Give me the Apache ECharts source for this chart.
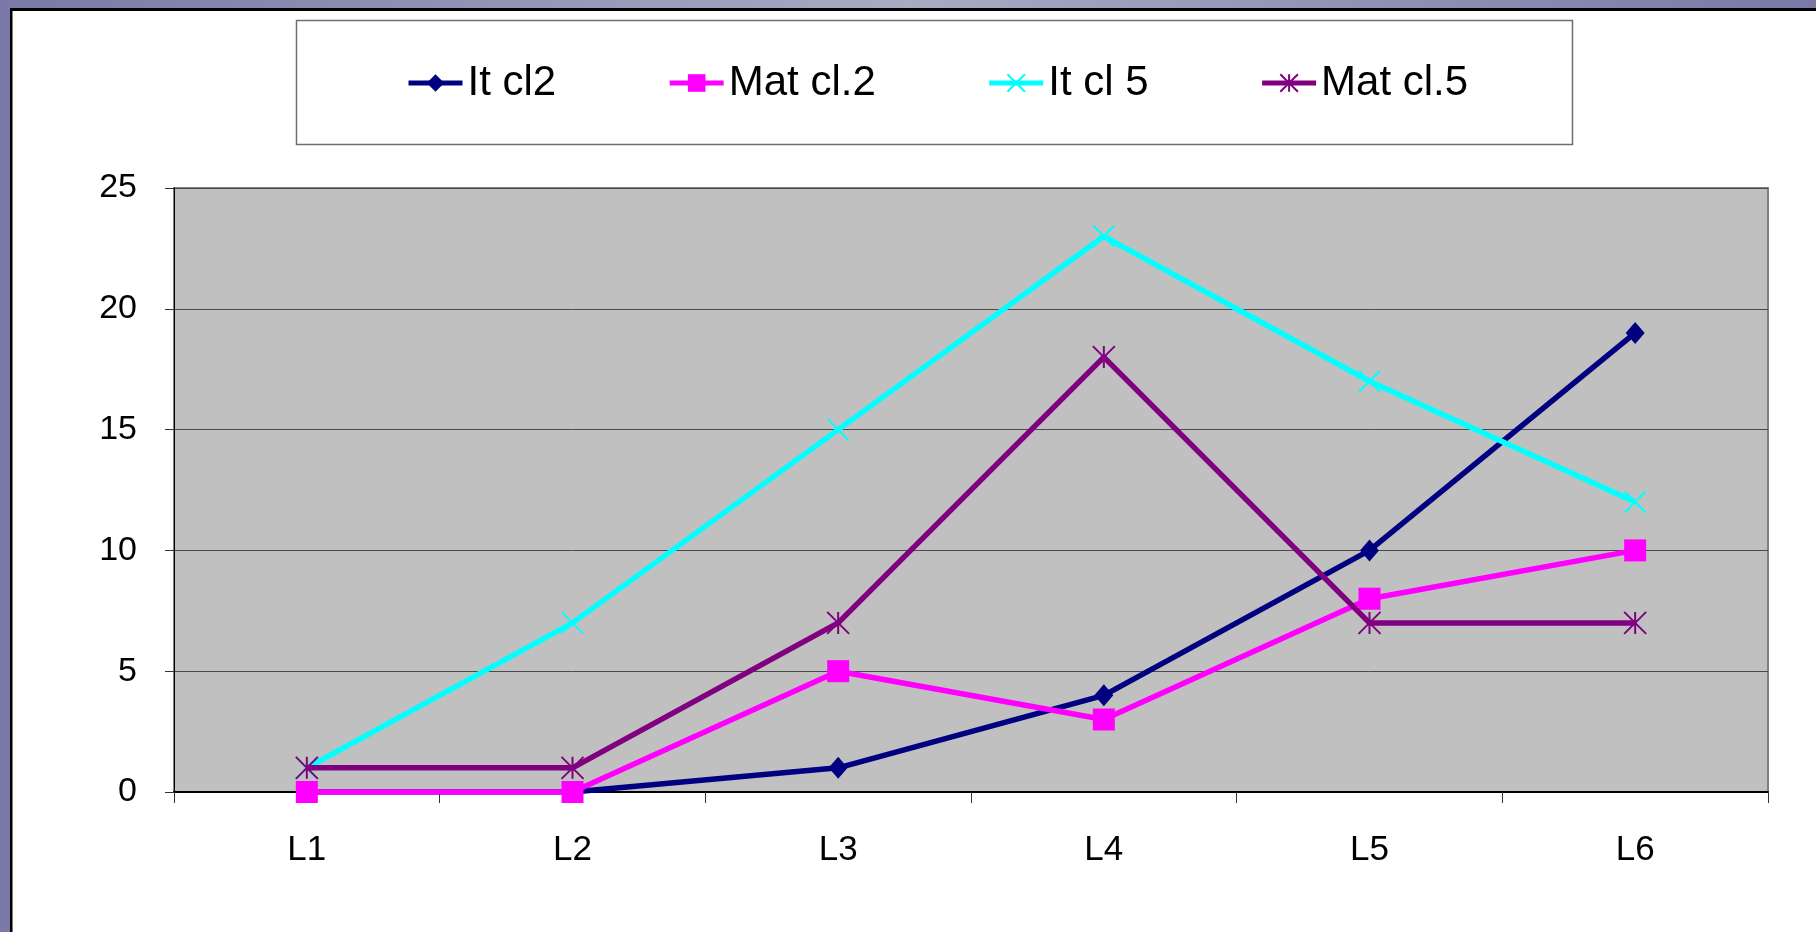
<!DOCTYPE html>
<html>
<head>
<meta charset="utf-8">
<script src="https://cdn.jsdelivr.net/npm/echarts@6/dist/echarts.min.js"></script>
<style>
html,body{margin:0;padding:0;background:#fff;}
#chart{width:1816px;height:932px;}
</style>
</head>
<body>
<div id="chart"></div>
<script>
var categories = ['L1', 'L2', 'L3', 'L4', 'L5', 'L6'];
var seriesNames = ['It cl2', 'Mat cl.2', 'It cl 5', 'Mat cl.5'];
var itCl2 = [0, 0, 1, 4, 10, 19];
var matCl2 = [0, 0, 5, 3, 8, 10];
var itCl5 = [1, 7, 15, 23, 17, 12];
var matCl5 = [1, 1, 7, 18, 7, 7];
var yTicks = [0, 5, 10, 15, 20, 25];

var colors = ['#000080', '#ff00ff', '#00ffff', '#800080'];
var symbols = [
  'diamond',
  'rect',
  'path://M0,0L10,10M10,0L0,10',
  'path://M0,0L10,10M10,0L0,10M5,0L5,10'
];
var sizes = [[19, 22], 22, 21, 22];
var dataSets = [itCl2, matCl2, itCl5, matCl5];
var FONT = '"Liberation Sans", Arial, sans-serif';

var series = dataSets.map(function (d, i) {
  var isPath = symbols[i].indexOf('path://') === 0;
  return {
    name: seriesNames[i],
    type: 'line',
    data: d,
    symbol: symbols[i],
    symbolSize: sizes[i],
    showAllSymbol: true,
    animation: false,
    lineStyle: { color: colors[i], width: 5.5 },
    itemStyle: {
      color: colors[i],
      borderColor: colors[i],
      borderWidth: isPath ? 2 : 0
    },
    emphasis: { disabled: true },
    z: 10 + i
  };
});

var chart = echarts.init(document.getElementById('chart'), null, { renderer: 'canvas' });
chart.setOption({
  backgroundColor: '#ffffff',
  animation: false,
  textStyle: { fontFamily: FONT },
  graphic: [
    {
      type: 'rect', z: -10, silent: true,
      shape: { x: 0, y: 0, width: 1816, height: 932 },
      style: {
        fill: new echarts.graphic.LinearGradient(0, 0, 1, 0, [
          { offset: 0, color: '#7a79a7' },
          { offset: 0.5, color: '#aaaac3' },
          { offset: 1, color: '#7a79a7' }
        ])
      }
    },
    {
      type: 'rect', z: -9, silent: true,
      shape: { x: 10, y: 8, width: 1806, height: 924 },
      style: { fill: '#ffffff' }
    },
    {
      type: 'rect', z: -8, silent: true,
      shape: { x: 10, y: 8, width: 1806, height: 3 },
      style: { fill: '#000000' }
    },
    {
      type: 'rect', z: -8, silent: true,
      shape: { x: 10, y: 8, width: 2.5, height: 924 },
      style: { fill: '#000000' }
    },
    {
      type: 'rect', z: -5, silent: true,
      shape: { x: 296.5, y: 20.5, width: 1276, height: 124 },
      style: { fill: '#ffffff', stroke: '#6e6e6e', lineWidth: 1.5 }
    }
  ],
  legend: {
    left: 406,
    top: 62,
    padding: 0,
    itemGap: 111,
    itemWidth: 54,
    itemHeight: 22,
    lineStyle: { width: 5 },
    textStyle: { fontSize: 42, color: '#000', fontFamily: FONT, padding: [0, 0, 0, 0] },
    data: seriesNames
  },
  grid: {
    left: 174,
    top: 188,
    right: 48,
    bottom: 140,
    show: true,
    backgroundColor: '#c0c0c0',
    borderColor: '#808080',
    borderWidth: 2
  },
  xAxis: {
    type: 'category',
    data: categories,
    boundaryGap: true,
    axisLine: { show: true, lineStyle: { color: '#000', width: 2 } },
    axisTick: { show: true, length: 11, lineStyle: { color: '#333', width: 1 } },
    axisLabel: { fontSize: 35, color: '#000', margin: 41, fontFamily: FONT },
    splitLine: { show: false }
  },
  yAxis: {
    type: 'value',
    min: yTicks[0],
    max: yTicks[yTicks.length - 1],
    interval: yTicks[1] - yTicks[0],
    axisLine: { show: true, lineStyle: { color: '#000', width: 1 } },
    axisTick: { show: true, length: 9, lineStyle: { color: '#333', width: 1 } },
    axisLabel: { fontSize: 34, color: '#000', margin: 37, fontFamily: FONT },
    splitLine: { show: true, lineStyle: { color: '#4a4a4a', width: 1 } }
  },
  series: series
});
</script>
</body>
</html>
